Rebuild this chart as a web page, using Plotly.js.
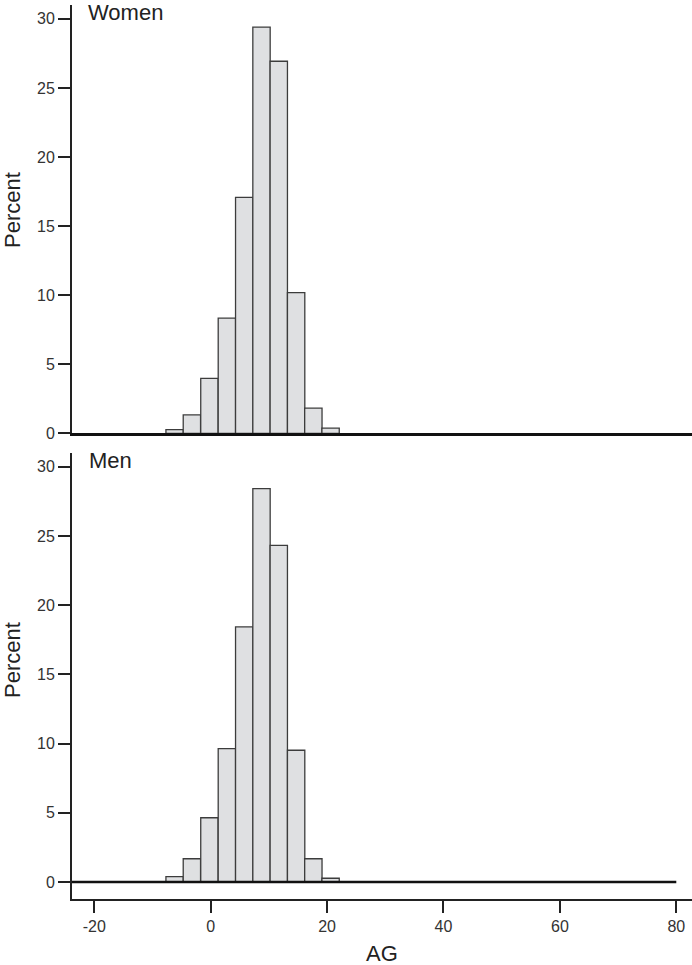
<!DOCTYPE html>
<html>
<head>
<meta charset="utf-8">
<script src="https://cdn.plot.ly/plotly-3.0.1.min.js"></script>
<style>html,body{margin:0;padding:0;background:#fff;}#chart{width:692px;height:965px;}</style>
</head>
<body>
<div id="chart"></div>
<script>
// Bin centres (AG) and percentages
var binCenters = [-6.2, -3.23, -0.22, 2.78, 5.76, 8.73, 11.7, 14.68, 17.64, 20.6];
var womenPct   = [0.27, 1.33, 3.98, 8.33, 17.07, 29.4, 26.93, 10.18, 1.82, 0.37];
var menPct     = [0.38, 1.68, 4.64, 9.64, 18.43, 28.43, 24.32, 9.52, 1.68, 0.27];
var yTicks     = [0, 5, 10, 15, 20, 25, 30];
var xTicks     = [-20, 0, 20, 40, 60, 80];
var panelLabels = ["Women", "Men"];
var xTitle = "AG";
var yTitle = "Percent";

var W = 692, H = 965;
var FONT = "Liberation Sans, Arial, Helvetica, sans-serif";
var binWidth = 2.98;
var barStyle = {color: "#dfe0e2", line: {color: "#3c3c3c", width: 1.3}};

function py(p) { return 1 - p / H; }
function px(p) { return p / W; }

var traces = [
  {type: "bar", x: binCenters, y: womenPct, width: binWidth, marker: barStyle,
   xaxis: "x2", yaxis: "y2", hoverinfo: "x+y"},
  {type: "bar", x: binCenters, y: menPct, width: binWidth, marker: barStyle,
   xaxis: "x", yaxis: "y", hoverinfo: "x+y"}
];

var xRange = [-23.83, 82.7];
var axisCommon = {
  showgrid: false, zeroline: false, showline: true, linecolor: "#222", linewidth: 2,
  ticks: "outside", ticklen: 12, tickwidth: 2, tickcolor: "#222",
  tickfont: {family: FONT, size: 16, color: "#333"}
};

var layout = {
  width: W, height: H,
  margin: {l: 0, r: 0, t: 0, b: 0},
  paper_bgcolor: "#fff", plot_bgcolor: "rgba(0,0,0,0)",
  showlegend: false, bargap: 0,
  font: {family: FONT, color: "#222"},
  xaxis: Object.assign({}, axisCommon, {
    domain: [px(72), 1], range: xRange, anchor: "y",
    tickvals: xTicks, ticktext: xTicks.map(String)
  }),
  yaxis: Object.assign({}, axisCommon, {
    domain: [py(899), py(453)], range: [-1.23, 31.0], anchor: "x",
    tickvals: yTicks, ticktext: yTicks.map(String)
  }),
  xaxis2: {
    domain: [px(72), 1], range: xRange, anchor: "y2",
    showgrid: false, zeroline: false, showline: true, linecolor: "#111", linewidth: 2.5,
    ticks: "", showticklabels: false
  },
  yaxis2: Object.assign({}, axisCommon, {
    domain: [py(433.3), py(5)], range: [0, 31.0], anchor: "x2",
    tickvals: yTicks, ticktext: yTicks.map(String)
  }),
  shapes: [
    {type: "line", xref: "x", yref: "y", x0: xRange[0], x1: 80, y0: 0, y1: 0,
     line: {color: "#111", width: 2.5}, layer: "above"}
  ],
  annotations: [
    {text: panelLabels[0], xref: "paper", yref: "paper", x: px(86), y: py(13),
     xanchor: "left", yanchor: "middle", showarrow: false,
     font: {family: FONT, size: 22, color: "#222"}},
    {text: panelLabels[1], xref: "paper", yref: "paper", x: px(87), y: py(461),
     xanchor: "left", yanchor: "middle", showarrow: false,
     font: {family: FONT, size: 22, color: "#222"}},
    {text: xTitle, xref: "paper", yref: "paper", x: px(382), y: py(953),
     xanchor: "center", yanchor: "middle", showarrow: false,
     font: {family: FONT, size: 22, color: "#222"}},
    {text: yTitle, xref: "paper", yref: "paper", x: px(12), y: py(210),
     xanchor: "center", yanchor: "middle", textangle: -90, showarrow: false,
     font: {family: FONT, size: 22, color: "#222"}},
    {text: yTitle, xref: "paper", yref: "paper", x: px(12), y: py(660),
     xanchor: "center", yanchor: "middle", textangle: -90, showarrow: false,
     font: {family: FONT, size: 22, color: "#222"}}
  ]
};

Plotly.newPlot("chart", traces, layout, {displayModeBar: false, staticPlot: true});
</script>
</body>
</html>
